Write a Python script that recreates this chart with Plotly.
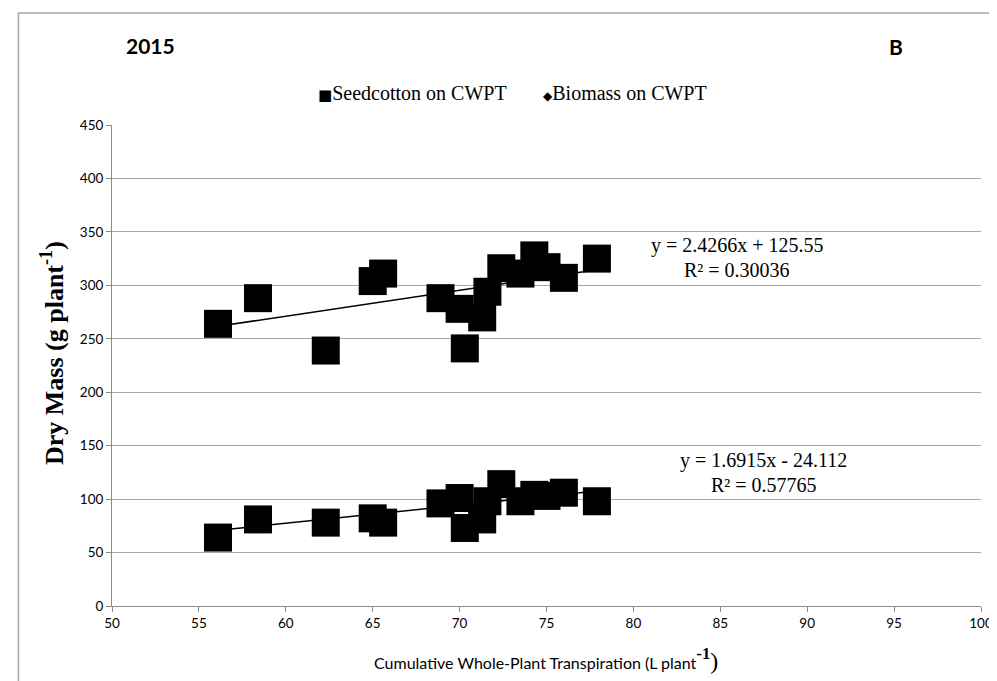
import plotly.graph_objects as go

# Cumulative whole-plant transpiration (L plant-1)
cwpt = [56.1, 58.4, 62.3, 65.0, 65.6, 68.9, 70.0, 70.3, 71.3, 71.6, 72.4, 73.5, 74.3, 75.0, 76.0, 77.9]
# Biomass dry mass (g plant-1)
biomass = [264, 288, 239, 304, 311, 288, 278, 241, 270, 294, 316, 311, 328, 317, 307, 325]
# Seedcotton dry mass (g plant-1)
seedcotton = [64, 81, 78, 82, 78, 96, 101, 73, 81, 98, 114, 98, 104, 103, 106, 98]

bio_fit = (2.4266, 125.55)
seed_fit = (1.6915, -24.112)
x_ticks = [50, 55, 60, 65, 70, 75, 80, 85, 90, 95, 100]
y_ticks = [0, 50, 100, 150, 200, 250, 300, 350, 400, 450]

W, H = 997, 681
L, R, T, B = 104, 20, 117, 82.5
PW, PH = W - L - R, H - T - B


def px(x):
    return (x - L) / PW


def py(y):
    return (H - B - y) / PH


serif = "Liberation Serif"
sans = "Lato"

fig = go.Figure()
xmin, xmax = min(cwpt), max(cwpt)
for fit in (bio_fit, seed_fit):
    fig.add_trace(go.Scatter(x=[xmin, xmax], y=[fit[0] * xmin + fit[1], fit[0] * xmax + fit[1]],
                             mode="lines", line=dict(color="black", width=1.5),
                             showlegend=False, hoverinfo="skip"))
fig.add_trace(go.Scatter(x=cwpt, y=seedcotton, mode="markers", name="Seedcotton on CWPT",
                         marker=dict(symbol="square", size=28, color="black"), showlegend=False))
fig.add_trace(go.Scatter(x=cwpt, y=biomass, mode="markers", name="Biomass on CWPT",
                         marker=dict(symbol="square", size=28, color="black"), showlegend=False))

ann = []
ann.append(dict(x=px(116), y=py(37), text="<b>2015</b>", xanchor="left", yanchor="middle",
                font=dict(family=sans, size=21, color="black")))
ann.append(dict(x=px(892), y=py(38), text="<b>B</b>", xanchor="center", yanchor="middle",
                font=dict(family=sans, size=21, color="black")))
ann.append(dict(x=px(309), y=py(85), text="<span style='font-family:DejaVu Sans;font-size:15px'>■</span>Seedcotton on CWPT",
                xanchor="left", yanchor="middle", font=dict(family=serif, size=20, color="black")))
ann.append(dict(x=px(535), y=py(85), text="<span style='font-family:DejaVu Sans;font-size:12px'>◆</span>Biomass on CWPT",
                xanchor="left", yanchor="middle", font=dict(family=serif, size=20, color="black")))
ann.append(dict(x=px(732), y=py(238), text="y = %.4fx + %.2f" % bio_fit, xanchor="center", yanchor="middle",
                font=dict(family=serif, size=20, color="black")))
ann.append(dict(x=px(732), y=py(262), text="R² = 0.30036", xanchor="center", yanchor="middle",
                font=dict(family=serif, size=20, color="black")))
ann.append(dict(x=px(759), y=py(453), text="y = %.4fx - %.3f" % (seed_fit[0], -seed_fit[1]), xanchor="center", yanchor="middle",
                font=dict(family=serif, size=20, color="black")))
ann.append(dict(x=px(759), y=py(477), text="R² = 0.57765", xanchor="center", yanchor="middle",
                font=dict(family=serif, size=20, color="black")))
ann.append(dict(x=px(540), y=py(652),
                text="Cumulative Whole-Plant Transpiration (L plant<span style='font-family:Liberation Serif;font-size:24px'><b><sup>-1</sup></b>)</span>",
                xanchor="center", yanchor="middle", font=dict(family=sans, size=16, color="black")))
ann.append(dict(x=px(45), y=py(345), text="<b>Dry Mass (g plant<sup>-1</sup>)</b>", textangle=-90,
                xanchor="center", yanchor="middle", font=dict(family=serif, size=26, color="black")))
for a in ann:
    a.update(xref="paper", yref="paper", showarrow=False)

fig.update_layout(
    width=W, height=H,
    margin=dict(l=L, r=R, t=T, b=B, pad=0),
    paper_bgcolor="white", plot_bgcolor="white",
    annotations=ann,
    shapes=[dict(type="rect", xref="paper", yref="paper", x0=px(10), x1=px(1030), y0=py(720), y1=py(5),
                 line=dict(color="#a6a6a6", width=1.5), layer="below")],
    xaxis=dict(range=[50, 100], tickvals=x_ticks, showgrid=False, zeroline=False,
               showline=True, linecolor="#8c8c8c", linewidth=1, ticks="outside", ticklen=5,
               tickcolor="#8c8c8c", tickfont=dict(family=sans, size=13.5, color="black")),
    yaxis=dict(range=[0, 450], tickvals=y_ticks, showgrid=True, gridcolor="#a6a6a6", gridwidth=1,
               zeroline=False, showline=True, linecolor="#8c8c8c", linewidth=1, ticks="outside",
               ticklen=5, tickcolor="#8c8c8c", tickfont=dict(family=sans, size=13.5, color="black")),
)
fig.write_html("out.html")
